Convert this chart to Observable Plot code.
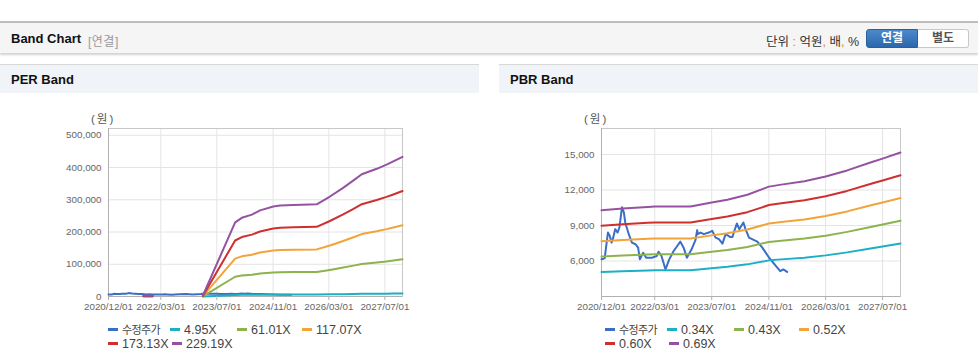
<!DOCTYPE html>
<html><head><meta charset="utf-8">
<script src="https://cdn.jsdelivr.net/npm/d3@7"></script>
<script src="https://cdn.jsdelivr.net/npm/@observablehq/plot@0.6"></script>
<style>
body{margin:0;width:978px;height:364px;position:relative;overflow:hidden;background:#fff;font-family:"Liberation Sans",Arial,"Noto Sans CJK KR",sans-serif;}
#topbar{position:absolute;left:0;top:21px;width:978px;height:30px;background:#f5f5f5;border-top:2px solid #bdbdbd;box-shadow:0 2px 2px rgba(0,0,0,.18);}
#topbar .t{position:absolute;left:11px;top:8px;font-weight:bold;font-size:13px;color:#111;}
#topbar .s{position:absolute;left:88px;top:9px;font-size:12px;color:#999;letter-spacing:0.5px;}
#topbar .u{position:absolute;right:119px;top:8px;font-size:12.5px;color:#333;}
#topbar .u b{color:#d98a14;font-weight:normal;}
.btn{position:absolute;top:6px;height:17px;line-height:17px;width:50px;text-align:center;font-size:12px;font-weight:bold;box-sizing:content-box;}
#b1{left:866px;background:linear-gradient(#4c89cb,#2b67ad);color:#fff;border:1px solid #2a5e9c;border-radius:3px 0 0 3px;}
#b2{left:918px;background:#fff;color:#555;border:1px solid #c8c8c8;border-left:none;border-radius:0 3px 3px 0;}
.panel{position:absolute;top:64px;width:479px;height:300px;}
.panel .hd{position:absolute;left:0;top:0;width:479px;height:28px;background:#f0f3f8;border-top:1px solid #d8d8d8;}
.panel .hd span{position:absolute;left:11px;top:7px;font-weight:bold;font-size:13px;color:#111;}
.panel .chart{position:absolute;left:0;top:36px;}
.panel .unit{position:absolute;top:46px;font-size:11.5px;color:#555;letter-spacing:2px;}
.leg{position:absolute;font-size:12.5px;color:#444;white-space:nowrap;height:14px;line-height:14px;}
.leg i{display:inline-block;width:10px;height:2.5px;vertical-align:middle;margin-right:4px;position:relative;top:-1px;}
.leg .ko{font-size:11px;letter-spacing:-0.6px;}
</style></head>
<body>
<div id="topbar"><span class="t">Band Chart</span><span class="s">[연결]</span>
<span class="u">단위 <b>:</b> 억원<b>,</b> 배<b>,</b> %</span>
<div class="btn" id="b1">연결</div><div class="btn" id="b2">별도</div></div>
<div class="panel" id="p1" style="left:0"><div class="hd"><span>PER Band</span></div><div class="unit" style="left:91px">(원)</div></div>
<div class="panel" id="p2" style="left:499px"><div class="hd"><span>PBR Band</span></div><div class="unit" style="left:85px">(원)</div></div>
<script>
// ---- shared price series (수정주가) ----
const priceDates = ["2020-12-01","2020-12-28","2021-01-25","2021-02-10","2021-02-25","2021-03-10","2021-03-28","2021-04-18","2021-05-03","2021-05-25","2021-06-10","2021-06-22","2021-07-22","2021-08-18","2021-09-18","2021-10-10","2021-10-25","2021-11-22","2021-12-18","2022-02-05","2022-03-18","2022-04-03","2022-04-28","2022-06-01","2022-07-03","2022-08-10","2022-10-06","2022-11-03","2022-12-01","2023-01-10","2023-02-12","2023-02-27","2023-03-04","2023-03-28","2023-04-25","2023-06-06","2023-07-06","2023-08-03","2023-09-01","2023-10-01","2023-10-28","2023-12-04","2023-12-25","2024-02-01","2024-02-22","2024-03-28","2024-04-15","2024-05-15","2024-06-28","2024-07-25","2024-09-06","2024-11-03","2025-01-01","2025-02-06","2025-03-04","2025-04-06"];
const priceValues = [6150,6224,8406,8124,7554,7928,8695,8406,8832,10536,10110,9258,8269,7554,7417,7128,6139,6701,6275,6275,6420,6786,6420,5287,6139,6846,7639,7128,6275,6991,7758,8610,8269,8406,8269,8406,8550,7980,7843,7468,8269,8039,8039,9172,8695,9258,8695,7980,7758,7639,7128,6275,5568,5142,5287,5083];

// ---- PER band ----
const perDates = ["2021-10-01","2021-12-20","2022-06-01","2023-03-01","2023-12-07","2024-02-03","2024-05-01","2024-07-10","2024-11-03","2025-01-01","2025-04-28","2025-11-15","2026-03-10","2026-07-03","2026-10-01","2026-12-12","2027-04-21","2027-07-15","2027-09-12","2027-12-01"];
const per495  = [50,50,null,50,4970,5270,5490,5770,6030,6090,6130,6180,6700,7280,7780,8190,8550,8830,9050,9350];
const per6101 = [650,650,null,600,61200,65000,67600,71100,74300,75100,75600,76100,82500,89700,95800,100900,105400,108900,111500,115300];
const per11707 = [1250,1250,null,1200,117500,124600,129700,136400,142500,144000,145100,146100,158300,172100,183900,193600,202300,208900,214000,221200];
const per17313 = [1900,1900,null,1700,173700,184300,191900,201700,210800,213000,214500,216000,234200,254600,271900,286300,299100,309000,316500,327100];
const per22919 = [2500,2500,null,2300,230000,244000,254000,267000,279000,282000,284000,286000,310000,337000,360000,379000,396000,409000,419000,433000];
const perNames = ["수정주가","4.95X","61.01X","117.07X","173.13X","229.19X"];
const perYTicks = [0,100000,200000,300000,400000,500000];

// ---- PBR band ----
const pbrDates = ["2020-12-01","2021-06-01","2022-01-01","2022-03-01","2023-01-01","2023-07-01","2023-11-12","2024-05-01","2024-11-01","2025-02-15","2025-09-01","2026-03-01","2026-09-01","2027-04-01","2027-07-01","2027-12-01"];
const pbr034 = [5068,5139,5208,5223,5223,5392,5505,5716,6054,6138,6279,6476,6730,7082,7222,7476];
const pbr043 = [6373,6462,6549,6567,6567,6780,6921,7187,7612,7718,7895,8143,8462,8904,9081,9399];
const pbr052 = [7677,7785,7889,7911,7911,8167,8338,8658,9170,9298,9511,9810,10193,10726,10940,11323];
const pbr060 = [8982,9107,9230,9256,9256,9555,9755,10129,10728,10878,11127,11476,11925,12549,12798,13247];
const pbr069 = [10286,10430,10570,10600,10600,10943,11171,11600,12286,12457,12743,13143,13657,14371,14657,15171];
const pbrNames = ["수정주가","0.34X","0.43X","0.52X","0.60X","0.69X"];
const pbrYTicks = [6000,9000,12000,15000];

const xTickLabels = ["2020/12/01","2022/03/01","2023/07/01","2024/11/01","2026/03/01","2027/07/01"];
const colors = ["#3b6fc5","#1cafc6","#8db34c","#f2a33a","#cf2f2f","#9552a0"];

const parse = s => new Date(s + "T00:00:00Z");
const xTicks = xTickLabels.map(s => parse(s.replace(/\//g, "-")));
const xDomain = [parse("2020-12-01"), parse("2027-12-01")];

function rows(names, dates, bands) {
  const out = priceDates.map((d, i) => ({s: names[0], d: parse(d), v: priceValues[i]}));
  bands.forEach((arr, k) => arr.forEach((v, i) => out.push({s: names[k + 1], d: parse(dates[i]), v: v == null ? NaN : v})));
  return out;
}

function chart(names, data, yDomain, yTicks, ml, mr) {
  return Plot.plot({
    width: 479, height: 216, marginTop: 28, marginBottom: 20, marginLeft: ml, marginRight: mr,
    style: {fontFamily: '"Liberation Sans",Arial,sans-serif', fontSize: "9.8px", color: "#666", background: "transparent"},
    x: {type: "utc", domain: xDomain, label: null},
    y: {domain: yDomain, label: null},
    color: {domain: names, range: colors},
    marks: [
      Plot.gridY(yTicks, {stroke: "#e4e4e4", strokeOpacity: 1}),
      Plot.gridX(xTicks, {stroke: "#e4e4e4", strokeOpacity: 1}),
      Plot.frame({stroke: "#c8c8c8"}),
      Plot.ruleY([yDomain[0]], {stroke: "#b0b0b0"}),
      Plot.ruleX([xDomain[0]], {stroke: "#b0b0b0"}),
      Plot.line(data, {x: "d", y: "v", z: "s", stroke: "s", strokeWidth: 2, curve: "linear"}),
      Plot.axisX(xTicks, {tickFormat: d3.utcFormat("%Y/%m/%d"), tickSize: 4, tickPadding: 3, stroke: "#b0b0b0", fill: "#666", label: null}),
      Plot.axisY(yTicks, {tickFormat: d3.format(","), tickSize: 0, tickPadding: 7, fill: "#666", label: null})
    ]
  });
}

function legend(panel, names, left) {
  const pos = [[108,330],[170,330],[237,330],[302,330],[108,344],[172,344]];
  names.forEach((n, i) => {
    const el = document.createElement("div");
    el.className = "leg";
    el.style.left = (pos[i][0] - left) + "px";
    el.style.top = (pos[i][1] - 64 - 7) + "px";
    const label = /[^\x00-\x7f]/.test(n) ? `<span class="ko">${n}</span>` : n;
    el.innerHTML = `<i style="background:${colors[i]}"></i>${label}`;
    panel.appendChild(el);
  });
}

const p1 = document.getElementById("p1"), p2 = document.getElementById("p2");
const c1 = document.createElement("div"); c1.className = "chart";
c1.appendChild(chart(perNames, rows(perNames, perDates, [per495, per6101, per11707, per17313, per22919]), [0, 521000], perYTicks, 108, 77));
p1.appendChild(c1);
const c2 = document.createElement("div"); c2.className = "chart";
c2.appendChild(chart(pbrNames, rows(pbrNames, pbrDates, [pbr034, pbr043, pbr052, pbr060, pbr069]), [3000, 17200], pbrYTicks, 102, 78));
p2.appendChild(c2);
legend(p1, perNames, 0);
legend(p2, pbrNames, 2);
</script>
</body></html>
